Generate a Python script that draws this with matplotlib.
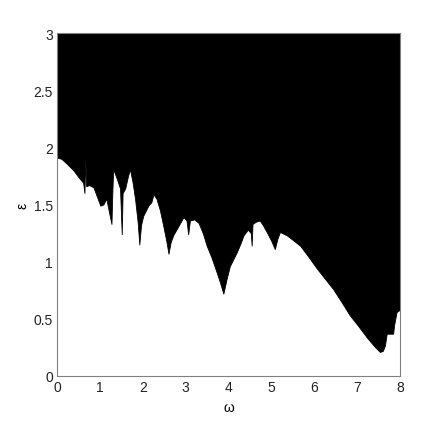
import matplotlib
matplotlib.use('Agg')
from matplotlib import pyplot as plt

# lower edge of the black (unstable) region
omega = [0.00, 0.10, 0.19, 0.30, 0.38, 0.50, 0.61, 0.64, 0.66, 0.68, 0.75, 0.85,
         0.95, 1.01, 1.08, 1.15, 1.22, 1.27, 1.29, 1.31, 1.40, 1.47, 1.51, 1.53,
         1.59, 1.65, 1.70, 1.76, 1.82, 1.88, 1.92, 1.96, 2.01, 2.13, 2.20, 2.25,
         2.32, 2.40, 2.48, 2.55, 2.60, 2.65, 2.71, 2.83, 2.95, 3.02, 3.06, 3.10,
         3.20, 3.30, 3.40, 3.49, 3.60, 3.72, 3.80, 3.88, 3.95, 4.03, 4.11, 4.19,
         4.28, 4.35, 4.45, 4.52, 4.54, 4.56, 4.64, 4.73, 4.80, 4.89, 5.00, 5.08,
         5.14, 5.20, 5.36, 5.50, 5.67, 5.85, 6.06, 6.25, 6.44, 6.63, 6.83, 7.02,
         7.22, 7.40, 7.53, 7.60, 7.65, 7.69, 7.76, 7.84, 7.86, 7.92, 8.00]
eps = [1.91, 1.90, 1.87, 1.83, 1.80, 1.74, 1.69, 1.60, 1.90, 1.66, 1.67, 1.65,
       1.55, 1.49, 1.50, 1.55, 1.42, 1.33, 1.60, 1.81, 1.72, 1.64, 1.24, 1.60,
       1.64, 1.74, 1.81, 1.70, 1.55, 1.35, 1.15, 1.32, 1.40, 1.49, 1.52, 1.59,
       1.55, 1.45, 1.31, 1.18, 1.07, 1.17, 1.23, 1.31, 1.39, 1.36, 1.24, 1.36,
       1.37, 1.34, 1.25, 1.14, 1.04, 0.91, 0.82, 0.72, 0.84, 0.96, 1.02, 1.08,
       1.16, 1.23, 1.28, 1.25, 1.14, 1.33, 1.35, 1.36, 1.32, 1.26, 1.18, 1.11,
       1.20, 1.26, 1.23, 1.19, 1.14, 1.05, 0.94, 0.85, 0.76, 0.65, 0.53, 0.44,
       0.34, 0.26, 0.21, 0.22, 0.27, 0.37, 0.37, 0.37, 0.44, 0.56, 0.58]

xticks = [0, 1, 2, 3, 4, 5, 6, 7, 8]
yticks = [0, 0.5, 1, 1.5, 2, 2.5, 3]
yticklabels = ['0', '0.5', '1', '1.5', '2', '2.5', '3']

plt.rcParams['font.family'] = ['Liberation Sans', 'DejaVu Sans']
plt.rcParams['font.size'] = 10

fig = plt.figure(figsize=(4.43, 4.27), dpi=100)
ax = fig.add_axes([57 / 443, 50 / 427, 343 / 443, 343 / 427])

ax.fill_between(omega, eps, 3, color='black', linewidth=0.6, edgecolor='black')

ax.set_xlim(0, 8)
ax.set_ylim(0, 3)
ax.set_xticks(xticks)
ax.set_yticks(yticks)
ax.set_yticklabels(yticklabels)
ax.tick_params(length=0, pad=3, colors='#222222')
for s in ax.spines.values():
    s.set_color('#808080')
    s.set_linewidth(0.8)

ax.set_xlabel('ω', labelpad=4)
ax.set_ylabel('ε', labelpad=3)

fig.savefig('out.png', dpi=100)
